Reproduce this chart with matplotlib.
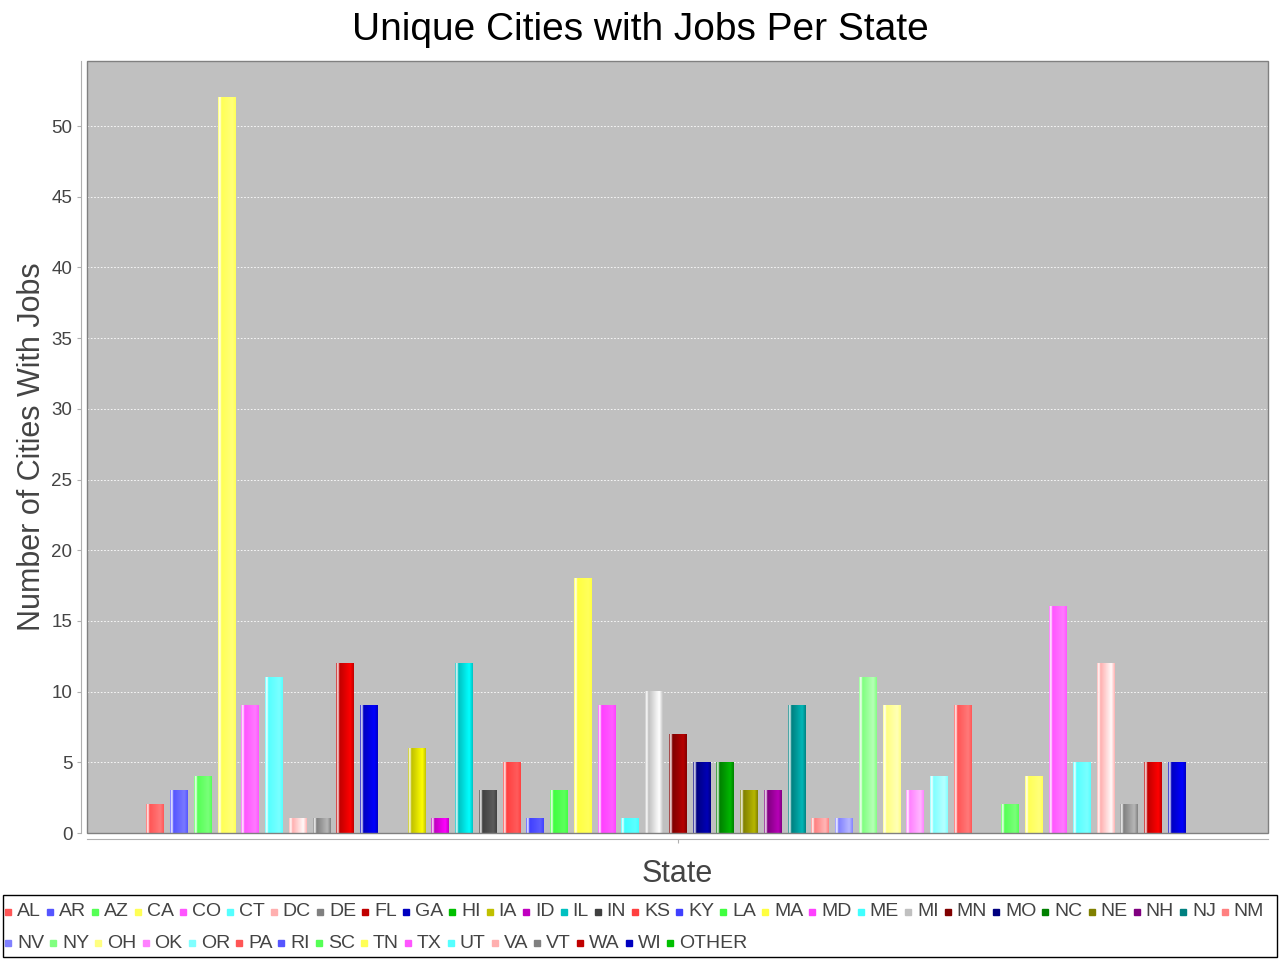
import matplotlib
matplotlib.use("Agg")
import matplotlib.pyplot as plt
import numpy as np
from matplotlib.patches import Rectangle
from matplotlib.colors import to_rgb

plt.rcParams['font.family'] = ['Liberation Sans', 'DejaVu Sans']

states = ["AL", "AR", "AZ", "CA", "CO", "CT", "DC", "DE", "FL", "GA", "HI", "IA", "ID",
          "IL", "IN", "KS", "KY", "LA", "MA", "MD", "ME", "MI", "MN", "MO", "NC", "NE",
          "NH", "NJ", "NM", "NV", "NY", "OH", "OK", "OR", "PA", "RI", "SC", "TN", "TX",
          "UT", "VA", "VT", "WA", "WI", "OTHER"]
cities = [2, 3, 4, 52, 9, 11, 1, 1, 12, 9, 0, 6, 1,
          12, 3, 5, 1, 3, 18, 9, 1, 10, 7, 5, 5, 3,
          3, 9, 1, 1, 11, 9, 3, 4, 9, 0, 2, 4, 16,
          5, 12, 2, 5, 5, 0]

# jfreechart default paint sequence
palette = ["#FF5555", "#5555FF", "#55FF55", "#FFFF55", "#FF55FF", "#55FFFF", "#FFAFAF",
           "#808080", "#C00000", "#0000C0", "#00C000", "#C0C000", "#C000C0", "#00C0C0",
           "#404040", "#FF4040", "#4040FF", "#40FF40", "#FFFF40", "#FF40FF", "#40FFFF",
           "#C0C0C0", "#800000", "#000080", "#008000", "#808000", "#800080", "#008080",
           "#FF8080", "#8080FF", "#80FF80", "#FFFF80", "#FF80FF", "#80FFFF"]
colors = [palette[i % len(palette)] for i in range(len(states))]


def brighter(c):
    # java.awt.Color.brighter()
    r, g, b = [v * 255 for v in to_rgb(c)]
    out = []
    for v in (r, g, b):
        if 0 < v < 3:
            v = 3
        out.append(min(v / 0.7, 255) / 255)
    return np.array(out)


def gradient_row(c, n=60):
    # GradientBarPainter: c -> white (10%) -> c (20%) -> brighter (80%) -> c
    c0 = np.array(to_rgb(c))
    c1 = brighter(c)
    white = np.ones(3)
    stops = [0, 0.1, 0.2, 0.8, 1.0]
    cols = [c0, white, c0, c1, c0]
    t = (np.arange(n) + 0.5) / n
    row = np.zeros((n, 3))
    for i in range(4):
        m = (t >= stops[i]) & (t <= stops[i + 1])
        f = (t[m] - stops[i]) / (stops[i + 1] - stops[i])
        row[m] = cols[i] + (cols[i + 1] - cols[i]) * f[:, None]
    return row[None, :, :]


W, H = 1280, 960
fig = plt.figure(figsize=(12.8, 9.6), dpi=100)
ax = fig.add_axes([87 / W, 1 - 833 / H, (1268 - 87) / W, (833 - 61) / H])
ax.set_facecolor("#C0C0C0")

xs = list(range(len(states)))
bw = 0.72
for x, v, c in zip(xs, cities, colors):
    if v <= 0:
        continue
    ax.imshow(gradient_row(c), extent=(x - bw / 2, x + bw / 2, 0, v), aspect="auto",
              interpolation="bilinear", zorder=3)

ax.set_xlim(-2.86, 46.86)
ax.set_ylim(0, 54.6)
ax.set_yticks(range(0, 55, 5))
ax.set_xticks([(len(states) - 1) / 2])
ax.set_xticklabels([""])
ax.grid(axis="y", color="white", linestyle=(0, (2, 2)), linewidth=0.6, zorder=1)

for s in ["top", "right"]:
    ax.spines[s].set_visible(False)
for s in ["left", "bottom"]:
    ax.spines[s].set_position(("outward", 4))
    ax.spines[s].set_color("#B0B0B0")
ax.add_patch(Rectangle((0, 0), 1, 1, transform=ax.transAxes, fill=False,
                       edgecolor="#808080", linewidth=1, zorder=5, clip_on=False))
ax.tick_params(axis="y", colors="#B0B0B0", labelcolor="#444444", labelsize=13.5, length=3)
ax.tick_params(axis="x", colors="#B0B0B0", length=3)

ax.set_ylabel("Number of Cities With Jobs", fontsize=22, color="#444444", labelpad=3)
ax.set_xlabel("State", fontsize=22, color="#444444", labelpad=8)
fig.text(0.5, 1 - 30 / H, "Unique Cities with Jobs Per State", ha="center", va="center",
         fontsize=28, color="black")

# flow-layout legend like jfreechart
fig.patches.append(Rectangle((3 / W, 1 - 957 / H), (1277 - 3) / W, (957 - 895) / H,
                             transform=fig.transFigure, fill=False, edgecolor="black",
                             linewidth=1))
renderer = fig.canvas.get_renderer()
rows = [912, 943]
x = 5
row = 0
for name, c in zip(states, colors):
    t = fig.text(0, 0, name, fontsize=14, color="#444444", va="center")
    w = t.get_window_extent(renderer).width
    if x + 12 + w > 1274:
        row += 1
        x = 5
    y = rows[row]
    fig.patches.append(Rectangle((x / W, 1 - (y + 3) / H), 6 / W, 6 / H,
                                 transform=fig.transFigure, color=c))
    t.set_position(((x + 12) / W, 1 - y / H))
    x += 12 + w + 6

fig.savefig("out.png", dpi=100)
